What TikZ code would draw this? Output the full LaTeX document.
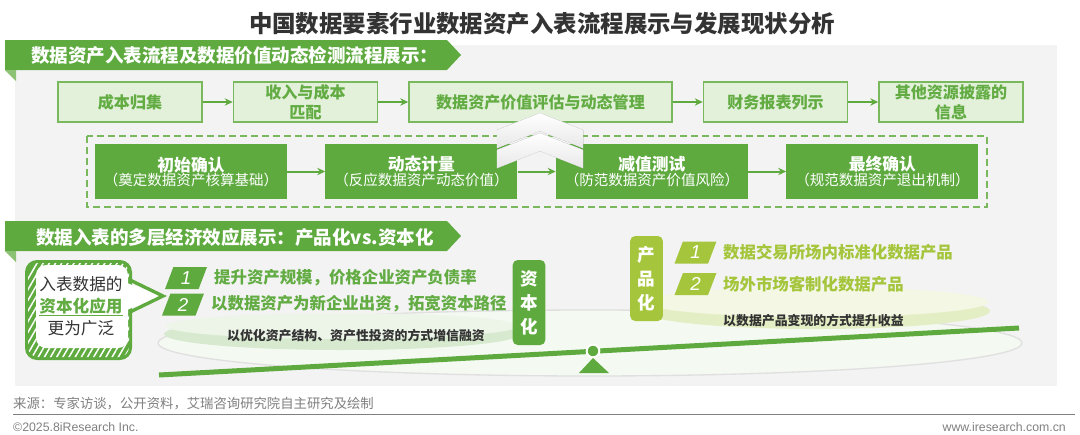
\documentclass[tikz,border=0pt]{standalone}
\usepackage{fontspec}
\setmainfont{Noto Sans CJK SC}
\newfontfamily\latinfont{Liberation Sans}
\usepackage{tikz}
\usetikzlibrary{arrows.meta,positioning,shapes.geometric,patterns.meta}
\definecolor{irgreen}{HTML}{5EAA3F}
\definecolor{irlight}{HTML}{E3F1DA}
\definecolor{irline}{HTML}{79B85C}
\definecolor{irtext}{HTML}{62AC43}
\definecolor{irlime}{HTML}{A5C63C}
\definecolor{irpanel}{HTML}{F3F3F3}
\definecolor{irfold}{HTML}{8DC275}
\definecolor{irdark}{HTML}{333333}
\definecolor{irgray}{HTML}{808080}
\newcommand{\phasetext}[2]{{\bfseries\fontsize{14.3}{19.5}\selectfont #1}\\{\fontsize{12.4}{19.5}\selectfont #2}}

\begin{document}
\begin{tikzpicture}[x=0.3mm,y=-0.3mm,
  stepbox/.style={draw=irline,line width=0.45mm,fill=irlight,text=irtext,align=center,
    font=\bfseries\fontsize{13.7}{17}\selectfont,minimum height=12mm,minimum width=43.2mm,inner sep=1pt},
  phasebox/.style={fill=irgreen,text=white,align=center,minimum height=16.5mm,minimum width=57.6mm,inner sep=1pt},
  arr/.style={-{Stealth[length=2.4mm,width=2.2mm]},line width=0.6mm,irgreen},
  banner/.style={fill=irgreen},
  headtxt/.style={text=white,font=\bfseries\fontsize{15.8}{18}\selectfont,anchor=west,inner sep=0pt},
  numtag/.style={trapezium,trapezium left angle=75,trapezium right angle=105,trapezium stretches=true,
    minimum width=12.6mm,minimum height=6.6mm,inner sep=0pt,text=white,font=\latinfont\itshape\fontsize{16}{16}\selectfont},
  vtag/.style={rounded corners=1.5mm,text=white,align=center,minimum width=9.8mm,minimum height=25.5mm,
    font=\bfseries\fontsize{15}{20.5}\selectfont,inner sep=0pt},
  item/.style={anchor=west,font=\bfseries\fontsize{14}{16}\selectfont,inner sep=0pt},
  disktxt/.style={text=irdark,font=\bfseries\fontsize{11}{13}\selectfont,inner sep=0pt},
  foot/.style={text=irgray,anchor=west,inner sep=0pt}]
  \useasboundingbox (0,0) rectangle (1080,434);
  \fill[white] (0,0) rectangle (1080,434);
  \node[text=irdark,font=\bfseries\fontsize{20}{24}\selectfont] (title) at (542,24)
    {中国数据要素行业数据资产入表流程展示与发展现状分析};
  \fill[irpanel] (15,45) rectangle (1057,386);

  % first band
  \fill[banner] (5,40) -- (447,40) -- (461,55) -- (447,70) -- (5,70) -- cycle;
  \fill[irfold] (5,70) -- (16,70) -- (16,81) -- cycle;
  \node[headtxt] (head1) at (31,55) {数据资产入表流程及数据价值动态检测流程展示：};

  \node[stepbox] (cost) at (130,102) {成本归集};
  \node[stepbox,right=9mm of cost] (match) {收入与成本\\匹配};
  \node[stepbox,right=9mm of match,minimum width=78.9mm] (value) {数据资产价值评估与动态管理};
  \node[stepbox,right=9mm of value] (report) {财务报表列示};
  \node[stepbox,right=9mm of report] (disclose) {其他资源披露的\\信息};
  \draw[arr] (cost) -- (match);
  \draw[arr] (match) -- (value);
  \draw[arr] (value) -- (report);
  \draw[arr] (report) -- (disclose);

  \draw[irline,line width=0.45mm,dash pattern=on 2mm off 1.3mm] (87,136) rectangle (987,207);
  \node[phasebox] (init) at (191,171.5) {\phasetext{初始确认}{（奠定数据资产核算基础）}};
  \node[phasebox,right=11.4mm of init] (measure) {\phasetext{动态计量}{（反应数据资产动态价值）}};
  \node[phasebox,right=11.4mm of measure] (impair) {\phasetext{减值测试}{（防范数据资产价值风险）}};
  \node[phasebox,right=11.4mm of impair] (final) {\phasetext{最终确认}{（规范数据资产退出机制）}};
  \draw[arr] (init) -- (measure);
  \draw[arr] (measure) -- (impair);
  \draw[arr] (impair) -- (final);
  \foreach \a in {133,113}
    \fill[top color=white,bottom color=black!9,draw=black!6]
      (497,\a+17) -- (540,\a) -- (583,\a+17) -- (583,\a+35) -- (540,\a+18) -- (497,\a+35) -- cycle;

  % second band
  \fill[banner] (5,221) -- (447,221) -- (461,236) -- (447,251) -- (5,251) -- cycle;
  \fill[irfold] (5,251) -- (16,251) -- (16,262) -- cycle;
  \node[headtxt] (head2) at (36,237) {数据入表的多层经济效应展示：产品化vs.资本化};

  \fill[irgreen!7,draw=black!12,line width=0.4mm] (590,343) ellipse [x radius=432,y radius=33];
  \fill[irgreen!25] (342,334) ellipse [x radius=178,y radius=16];
  \fill[irgreen!12] (342,326) ellipse [x radius=176,y radius=13];
  \fill[irlime!30] (816,311) ellipse [x radius=174,y radius=18];
  \fill[irlime!14] (816,302) ellipse [x radius=172,y radius=15];
  \node[disktxt] (capway) at (356,336) {以优化资产结构、资产性投资的方式增信融资};
  \node[disktxt,anchor=west] (prodway) at (723,321) {以数据产品变现的方式提升收益};

  \fill[irgreen,rounded corners=3.6mm] (25,260) rectangle (132,360);
  \fill[pattern={Lines[angle=60,distance=1.6mm,line width=0.45mm]},pattern color=white,rounded corners=3mm]
    (28,263) rectangle (129,357);
  \fill[white,rounded corners=3mm] (36,265) rectangle (128,348);
  \fill[white] (124,282) -- (163,296) -- (124,311) -- cycle;
  \draw[irgreen,line width=1mm] (130,280) -- (163,296) -- (130,312);
  \node[align=center,font=\fontsize{14.2}{19}\selectfont,text=irdark] (bubble) at (81,306)
    {入表数据的\\{\color{irtext}\bfseries\underline{资本化应用}}\\更为广泛};

  \node[numtag,fill=irgreen] (cap1) at (186,278) {1};
  \node[item,text=irtext] (capitem1) at (214,278) {提升资产规模，价格企业资产负债率};
  \node[numtag,fill=irgreen] (cap2) at (183,304.5) {2};
  \node[item,text=irtext] (capitem2) at (211,304) {以数据资产为新企业出资，拓宽资本路径};
  \node[vtag,fill=irgreen] (captag) at (529,302.5) {资\\本\\化};

  \node[vtag,fill=irlime] (prodtag) at (646.5,278.5) {产\\品\\化};
  \node[numtag,fill=irlime] (prod1) at (695.5,252.5) {1};
  \node[item,text=irlime] (proditem1) at (723,252) {数据交易所场内标准化数据产品};
  \node[numtag,fill=irlime] (prod2) at (695.5,284) {2};
  \node[item,text=irlime] (proditem2) at (723,284) {场外市场客制化数据产品};

  \coordinate (beamL) at (159,375);
  \coordinate (beamR) at (1019,328);
  \draw[irgreen,line width=1.5mm] (beamL) -- (beamR);
  \node[circle,fill=irgreen,draw=white,line width=0.6mm,minimum size=3.8mm,inner sep=0pt] (pivot) at (593,351) {};
  \fill[irgreen] (593,358) -- (609,373) -- (579,373) -- cycle;

  \node[foot,font=\fontsize{11.4}{13}\selectfont] (source) at (13,404) {来源：专家访谈，公开资料，艾瑞咨询研究院自主研究及绘制};
  \draw[irgray,line width=0.3mm] (13,414) -- (1075,414);
  \node[foot,font=\latinfont\fontsize{10.5}{12}\selectfont] (copy) at (13,427) {©2025.8iResearch Inc.};
  \node[foot,anchor=east,font=\latinfont\fontsize{10.5}{12}\selectfont] (site) at (1066,427) {www.iresearch.com.cn};
\end{tikzpicture}
\end{document}
